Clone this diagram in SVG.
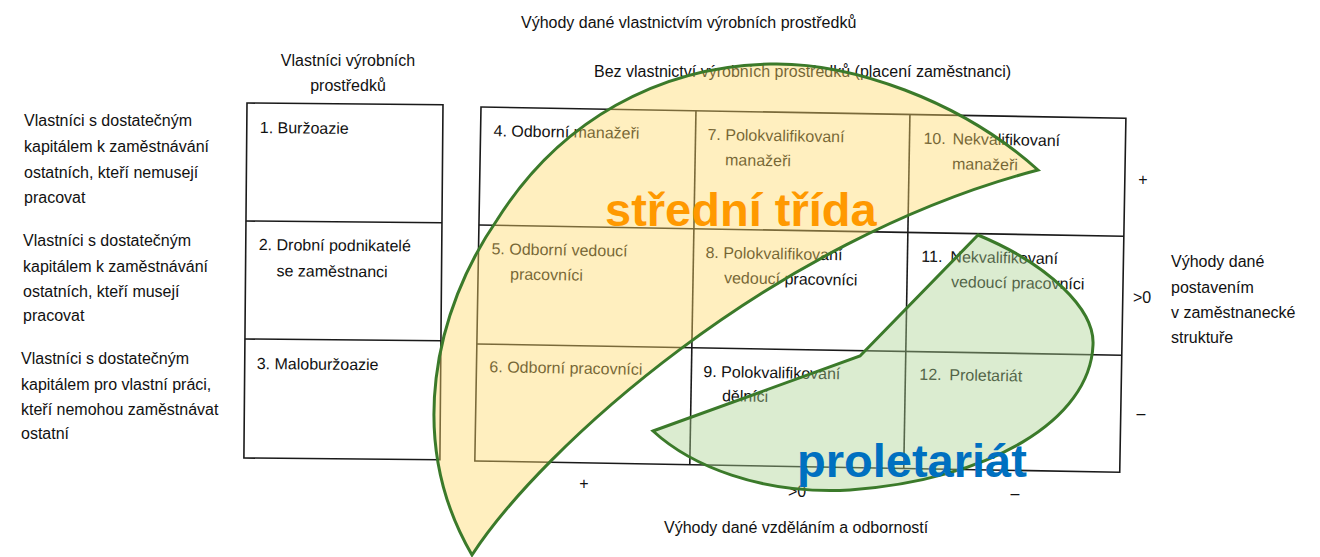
<svg xmlns="http://www.w3.org/2000/svg" width="1320" height="557" viewBox="0 0 1320 557">
<style>
text{font-family:"Liberation Sans",Arial,sans-serif;font-size:16px;fill:#111}
.grid{fill:none;stroke:#1a1a1a;stroke-width:1.6}
.ov{stroke:#3b7a2a;stroke-width:3;stroke-linejoin:miter}
.big{font-weight:bold;font-size:47px}
</style>
<rect width="1320" height="557" fill="#fff"/>

<g id="headings">
<text x="521" y="28">Výhody dané vlastnictvím výrobních prostředků</text>
<text x="348" y="66" text-anchor="middle">Vlastníci výrobních</text>
<text x="348" y="91" text-anchor="middle">prostředků</text>
<text x="594" y="77">Bez vlastnictví výrobních prostředků (placení zaměstnanci)</text>
</g>

<g id="row-labels">
<text x="24" y="126">Vlastníci s dostatečným</text>
<text x="24" y="152">kapitálem k zaměstnávání</text>
<text x="24" y="178">ostatních, kteří nemusejí</text>
<text x="24" y="203">pracovat</text>
<text x="23" y="246">Vlastníci s dostatečným</text>
<text x="23" y="272">kapitálem k zaměstnávání</text>
<text x="23" y="297">ostatních, kteří musejí</text>
<text x="23" y="321">pracovat</text>
<text x="21" y="364">Vlastníci s dostatečným</text>
<text x="21" y="390">kapitálem pro vlastní práci,</text>
<text x="21" y="415">kteří nemohou zaměstnávat</text>
<text x="21" y="439">ostatní</text>
</g>

<g id="owners-table" transform="translate(247,103) rotate(0.5)">
<rect class="grid" x="0" y="0" width="196" height="355"/>
<line class="grid" x1="0" y1="118" x2="196" y2="118"/>
<line class="grid" x1="0" y1="236" x2="196" y2="236"/>
<text x="13" y="30">1. Buržoazie</text>
<text x="13" y="147">2. Drobní podnikatelé</text>
<text x="31" y="173">se zaměstnanci</text>
<text x="12" y="266">3. Maloburžoazie</text>
</g>

<g id="employees-table" transform="translate(481,107) rotate(1)">
<rect class="grid" x="0" y="0" width="645" height="354"/>
<line class="grid" x1="215" y1="0" x2="215" y2="354"/>
<line class="grid" x1="429" y1="0" x2="429" y2="354"/>
<line class="grid" x1="0" y1="118" x2="645" y2="118"/>
<line class="grid" x1="0" y1="237" x2="645" y2="237"/>
<g id="cell4"><text x="13" y="29">4. Odborní manažeři</text></g>
<g id="cell5"><text x="13" y="147">5. Odborní vedoucí</text><text x="32" y="172">pracovníci</text></g>
<g id="cell6"><text x="13" y="265">6. Odborní pracovníci</text></g>
<g id="cell7"><text x="227" y="29">7. Polokvalifikovaní</text><text x="245" y="54">manažeři</text></g>
<g id="cell8"><text x="227" y="147">8. Polokvalifikovaní</text><text x="246" y="172">vedoucí pracovníci</text></g>
<g id="cell9"><text x="227" y="266">9. Polokvalifikovaní</text><text x="246" y="290">dělníci</text></g>
<g id="cell10"><text x="443" y="29">10.</text><text x="472" y="29">Nekvalifikovaní</text><text x="472" y="54">manažeři</text></g>
<g id="cell11"><text x="443" y="147">11.</text><text x="472" y="147">Nekvalifikovaní</text><text x="473" y="172">vedoucí pracovníci</text></g>
<g id="cell12"><text x="443" y="265">12.</text><text x="473" y="265">Proletariát</text></g>
</g>

<g id="axis-labels">
<text x="1143" y="185" text-anchor="middle">+</text>
<text x="1133" y="303">&gt;0</text>
<text x="1141" y="419" text-anchor="middle">–</text>
<text x="1171" y="267">Výhody dané</text>
<text x="1171" y="293">postavením</text>
<text x="1171" y="318">v zaměstnanecké</text>
<text x="1171" y="343">struktuře</text>
<text x="584" y="489" text-anchor="middle">+</text>
<text x="788" y="497">&gt;0</text>
<text x="1015" y="499" text-anchor="middle">–</text>
<text x="664" y="533">Výhody dané vzděláním a odborností</text>
</g>

<g id="middle-class">
<path class="ov" fill="#FFD966" fill-opacity="0.42" d="M1038,170 C960,100 850,62 770,64 C660,66 560,120 497,220 C435,310 405,440 472,555 C540,450 770,240 1038,170 Z"/>
<text class="big" x="605" y="226" fill="#FF9900" style="fill:#FF9900">střední třída</text>
</g>

<g id="proletariat">
<path class="ov" fill="#A9D18E" fill-opacity="0.42" d="M653,431 L860,356 L978,235 C1050,265 1095,310 1093,345 C1090,420 990,480 850,490 C760,495 690,465 653,431 Z"/>
<text class="big" x="797" y="477" style="fill:#0070C0">proletariát</text>
</g>
</svg>
